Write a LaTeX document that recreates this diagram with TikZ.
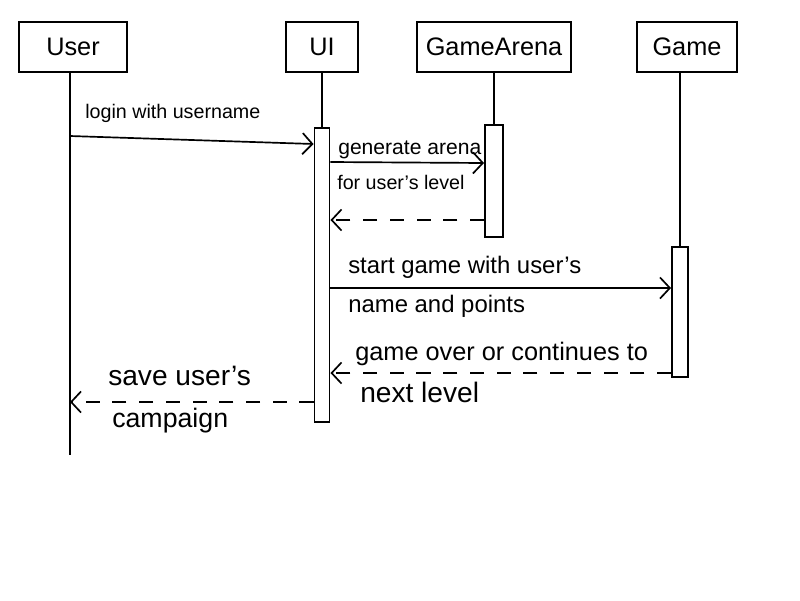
\documentclass[tikz,border=0pt]{standalone}
\usepackage{fontspec}
\setsansfont{Liberation Sans}
\usetikzlibrary{arrows.meta}

\begin{document}
\begin{tikzpicture}[
x=0.025cm,y=-0.025cm,
font=\sffamily,
actor/.style={rectangle,draw=black,line width=1.4pt,inner sep=0pt,minimum height=1.25cm,font=\sffamily\fontsize{18}{20}\selectfont},
lifeline/.style={draw=black,line width=1pt},
activation/.style={rectangle,draw=black,line width=1.4pt,fill=white,inner sep=0pt},
message/.style={draw=black,line width=1.2pt,-{Straight Barb[length=7pt,width=15pt,line width=1.2pt]}},
reply/.style={message,dash pattern=on 10pt off 9pt},
msgtext/.style={anchor=base west,inner sep=0pt,font=\sffamily\fontsize{#1}{#1}\selectfont},
msgtext/.default=16
]
\useasboundingbox (0,0) rectangle (800,600);

% Draw actors
\foreach \name/\label/\x/\w in {user/User/73/2.7, ui/UI/322/1.8, arena/GameArena/494/3.85, game/Game/687/2.5}{
  \node [actor,minimum width=\w cm] (\name) at (\x,47) {\label};
}

% Draw activation bars
\node [activation,minimum width=0.375cm,minimum height=7.35cm] (uibar) at (322,275) {};
\node [activation,minimum width=0.45cm,minimum height=2.8cm] (arenabar) at (494,181) {};
\node [activation,minimum width=0.4cm,minimum height=3.25cm] (gamebar) at (680,312) {};

% Draw lifelines
\coordinate (userend) at (70,455);
\draw [lifeline] (user.south -| userend) -- (userend);
\draw [lifeline] (ui.south) -- (uibar.north);
\draw [lifeline] (arena.south -| arenabar) -- (arenabar.north);
\draw [lifeline] (game.south -| gamebar) -- (gamebar.north);

% Draw messages: login and arena
\draw [message] (userend |- 0,136) -- (uibar.west |- 0,144);
\node [msgtext=14] (login) at (85,118) {login with username};

\draw [message] (uibar.east |- 0,162) -- (arenabar.west |- 0,163);
\node [msgtext=15] (genarena) at (338,154) {generate arena};
\node [msgtext=14] (forlevel) at (337,189) {for user's level};

\draw [reply] (arenabar.west |- 0,220) -- (uibar.east |- 0,220);

% Draw messages: game and campaign
\draw [message] (uibar.east |- 0,288) -- (gamebar.west |- 0,288);
\node [msgtext=17] (startgame) at (348,273) {start game with user's};
\node [msgtext=17] (namepoints) at (348,312) {name and points};

\draw [reply] (gamebar.west |- 0,373) -- (uibar.east |- 0,373);
\node [msgtext=18] (gameover) at (355,360) {game over or continues to};
\node [msgtext=20] (nextlevel) at (360,402) {next level};

\draw [reply] (uibar.west |- 0,402) -- (userend |- 0,402);
\node [msgtext=20] (saveuser) at (108,385) {save user's};
\node [msgtext=19] (campaign) at (112,427) {campaign};

\end{tikzpicture}
\end{document}
